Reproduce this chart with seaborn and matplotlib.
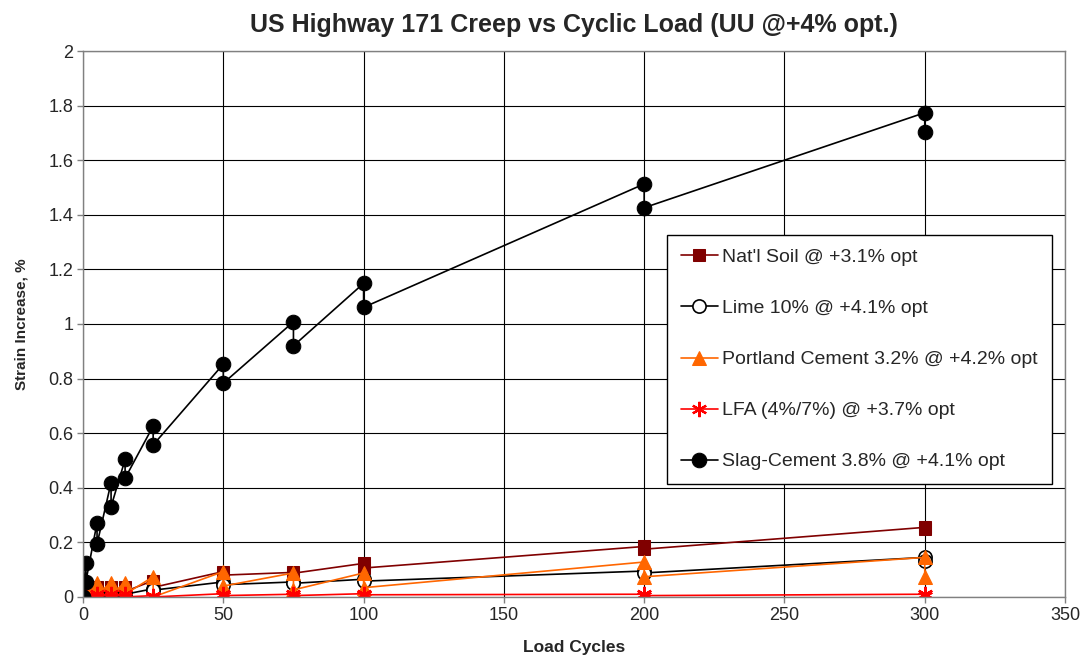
import matplotlib
matplotlib.use("Agg")
import matplotlib.pyplot as plt
import seaborn as sns

cycles = [0, 0, 1, 1, 5, 5, 10, 10, 15, 15, 25, 25, 50, 50, 75, 75, 100, 100, 200, 200, 300, 300]
natl_soil = [0, 0, 0.02, 0.01, 0.035, 0.02, 0.035, 0.02, 0.035, 0.02, 0.06, 0.035,
             0.093, 0.08, 0.09, 0.087, 0.123, 0.106, 0.185, 0.175, 0.255, 0.25]
lime = [0, 0, 0.01, 0.005, 0.02, 0.01, 0.02, 0.01, 0.02, 0.01, 0.03, 0.025,
        0.055, 0.045, 0.055, 0.05, 0.065, 0.058, 0.095, 0.088, 0.145, 0.13]
portland = [0, 0, 0.03, 0.005, 0.052, 0.01, 0.052, 0.01, 0.052, 0.01, 0.074, 0.0,
            0.093, 0.04, 0.088, 0.026, 0.088, 0.034, 0.128, 0.074, 0.145, 0.072]
lfa = [0, 0, 0.005, 0.0, 0.01, 0.0, 0.01, 0.0, 0.01, 0.0, 0.005, 0.0,
       0.012, 0.005, 0.01, 0.005, 0.012, 0.008, 0.01, 0.005, 0.01, 0.005]
slag = [0, 0, 0.126, 0.056, 0.272, 0.194, 0.419, 0.331, 0.504, 0.435, 0.626, 0.557,
        0.853, 0.783, 1.008, 0.920, 1.149, 1.061, 1.513, 1.426, 1.774, 1.704]

labels = ["Nat'l Soil @ +3.1% opt", "Lime 10% @ +4.1% opt",
          "Portland Cement 3.2% @ +4.2% opt", "LFA (4%/7%) @ +3.7% opt",
          "Slag-Cement 3.8% @ +4.1% opt"]

title = "US Highway 171 Creep vs Cyclic Load (UU @+4% opt.)"
xlabel = "Load Cycles"
ylabel = "Strain Increase, %"
xticks = [0, 50, 100, 150, 200, 250, 300, 350]
yticks = [0, 0.2, 0.4, 0.6, 0.8, 1, 1.2, 1.4, 1.6, 1.8, 2]
ytick_labels = ["0", "0.2", "0.4", "0.6", "0.8", "1", "1.2", "1.4", "1.6", "1.8", "2"]

sns.set_style("white")
plt.rcParams['font.family'] = ['Liberation Sans', 'DejaVu Sans']

fig = plt.figure(figsize=(10.88, 6.67), dpi=100)
ax = fig.add_axes([0.0763, 0.105, 0.9026, 0.8185])

styles = [
    dict(color="#800000", marker="s", markersize=9, markerfacecolor="#800000", markeredgecolor="#800000"),
    dict(color="#000000", marker="o", markersize=9.5, markerfacecolor="white", markeredgecolor="#000000", markeredgewidth=1.2),
    dict(color="#FF6600", marker="^", markersize=10, markerfacecolor="#FF6600", markeredgecolor="#FF6600"),
    dict(color="#FF0000", marker=(6, 2, 0), markersize=11, markerfacecolor="#FF0000", markeredgecolor="#FF0000", markeredgewidth=1.6),
    dict(color="#000000", marker="o", markersize=10.5, markerfacecolor="#000000", markeredgecolor="#000000"),
]
series = [natl_soil, lime, portland, lfa, slag]

for vals, lab, st in zip(series, labels, styles):
    sns.lineplot(x=cycles, y=vals, ax=ax, sort=False, estimator=None,
                 label=lab, linewidth=1.2, **st)

ax.set_xlim(0, 350)
ax.set_ylim(0, 2)
ax.set_xticks(xticks)
ax.set_yticks(yticks)
ax.set_yticklabels(ytick_labels)
ax.grid(True, color="#000000", linewidth=0.8)
ax.set_axisbelow(True)
for s in ax.spines.values():
    s.set_color("#808080")
    s.set_linewidth(1.0)
ax.tick_params(axis="both", which="major", labelsize=13, length=4, width=1,
               color="#808080", direction="out", left=True, bottom=True, pad=3)

ax.set_title(title, fontsize=18, fontweight="bold", pad=14)
ax.set_xlabel(xlabel, fontsize=12.5, fontweight="bold", labelpad=12)
ax.set_ylabel(ylabel, fontsize=11, fontweight="bold", labelpad=14)

leg = ax.legend(loc="upper left", bbox_to_anchor=(0.5947, 0.663), fontsize=14,
                frameon=True, fancybox=False, shadow=False, framealpha=1,
                edgecolor="#000000", labelspacing=1.72, handlelength=1.9,
                borderpad=0.7, handletextpad=0.25, borderaxespad=0)
leg.get_frame().set_linewidth(1.0)

fig.savefig("out.png", dpi=100)
